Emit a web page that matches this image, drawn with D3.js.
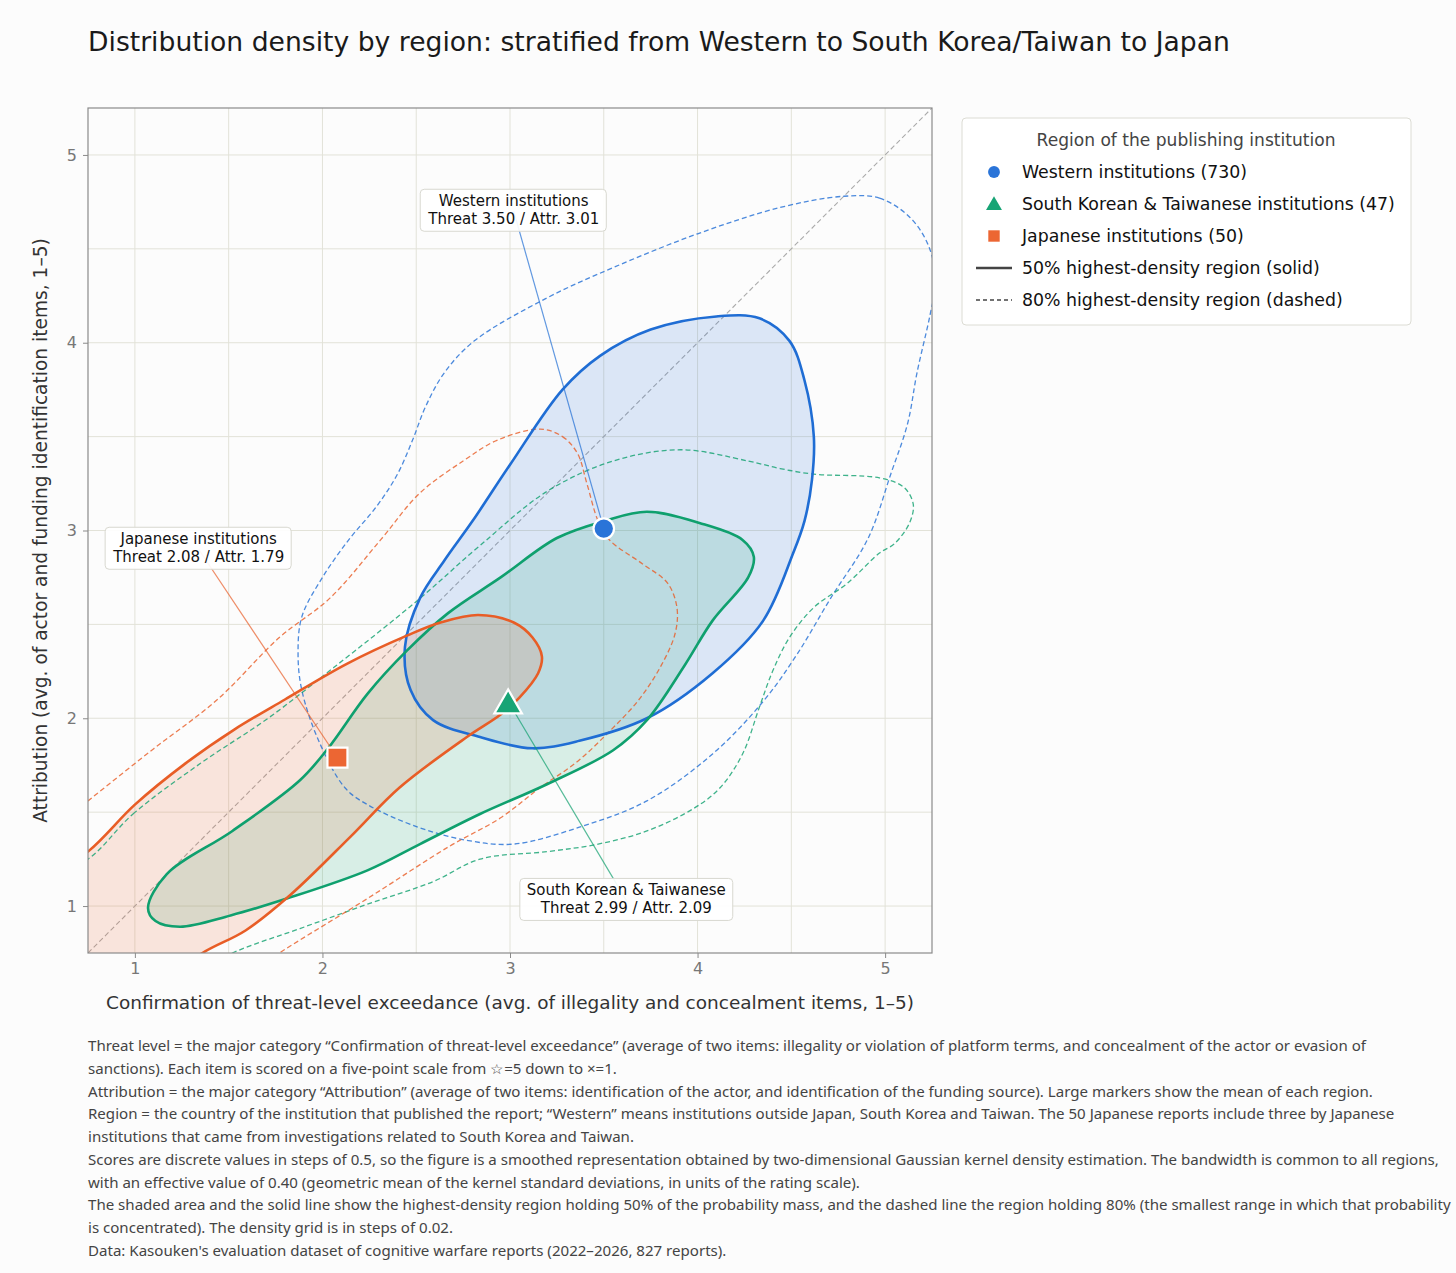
<!DOCTYPE html>
<html>
<head>
<meta charset="utf-8">
<script src="https://cdn.jsdelivr.net/npm/d3@7"></script>
<style>
  body { margin: 0; background: #fcfcfc; }
  text { font-family: "DejaVu Sans", "Noto Sans", sans-serif; }
</style>
</head>
<body>
<div id="chart"></div>
<script>
// ---- data ----
const regionNames = ["Western institutions", "South Korean & Taiwanese institutions", "Japanese institutions"];
const regionCounts = [730, 47, 50];
const calloutNames = ["Western institutions", "South Korean & Taiwanese", "Japanese institutions"];
const meanThreat = [3.50, 2.99, 2.08];
const meanAttr = [3.01, 2.09, 1.79];

// 50% highest-density region outlines [threat, attribution]
const hdr50West = [[4.10,4.14],[4.33,4.13],[4.49,4.01],[4.57,3.80],[4.62,3.50],[4.61,3.27],[4.57,3.05],[4.51,2.88],[4.35,2.52],[4.08,2.24],[3.73,2.00],[3.37,1.88],[3.12,1.84],[2.84,1.90],[2.59,1.99],[2.47,2.15],[2.44,2.38],[2.52,2.64],[2.65,2.84],[2.80,3.05],[3.00,3.35],[3.28,3.75],[3.48,3.93],[3.75,4.07]];
const hdr50Korea = [[3.73,3.10],[4.01,3.04],[4.24,2.95],[4.30,2.86],[4.27,2.75],[4.08,2.52],[3.93,2.28],[3.73,1.99],[3.55,1.83],[3.20,1.65],[2.84,1.49],[2.52,1.33],[2.24,1.19],[1.81,1.04],[1.51,0.95],[1.24,0.89],[1.11,0.92],[1.07,0.99],[1.17,1.17],[1.52,1.40],[1.88,1.67],[2.03,1.84],[2.24,2.13],[2.45,2.36],[2.67,2.56],[2.95,2.75],[3.25,2.96],[3.50,3.05]];
const hdr50Japan = [[3.17,2.33],[3.15,2.24],[3.05,2.11],[2.95,2.02],[2.77,1.90],[2.41,1.63],[2.15,1.37],[1.83,1.06],[1.59,0.87],[1.36,0.75],[1.08,0.55],[0.60,0.33],[0.33,0.71],[0.44,1.08],[0.75,1.29],[1.00,1.54],[1.27,1.76],[1.53,1.94],[1.80,2.10],[2.13,2.29],[2.45,2.44],[2.63,2.51],[2.83,2.55],[3.02,2.51],[3.12,2.43]];

// 80% highest-density region outlines
const hdr80West = [[4.78,4.78],[4.97,4.77],[5.13,4.67],[5.23,4.52],[5.27,4.33],[5.24,4.15],[5.17,3.84],[5.12,3.57],[5.03,3.30],[4.91,2.96],[4.71,2.64],[4.53,2.34],[4.35,2.09],[4.08,1.81],[3.73,1.56],[3.37,1.42],[3.02,1.33],[2.77,1.35],[2.51,1.42],[2.24,1.54],[2.12,1.63],[1.98,1.88],[1.89,2.15],[1.87,2.34],[1.89,2.54],[2.00,2.75],[2.14,2.95],[2.29,3.13],[2.40,3.30],[2.48,3.48],[2.55,3.66],[2.65,3.84],[2.81,4.01],[3.20,4.24],[3.55,4.40],[4.00,4.58],[4.44,4.72]];
const hdr80Korea = [[0.75,1.25],[0.99,1.49],[1.35,1.76],[1.71,2.00],[2.06,2.27],[2.51,2.63],[2.84,2.92],[3.20,3.21],[3.55,3.37],[3.91,3.43],[4.27,3.37],[4.44,3.33],[4.62,3.30],[4.97,3.28],[5.10,3.23],[5.15,3.14],[5.13,3.04],[5.05,2.93],[4.97,2.88],[4.80,2.72],[4.62,2.59],[4.49,2.43],[4.40,2.25],[4.33,2.06],[4.24,1.81],[4.12,1.63],[3.98,1.52],[3.73,1.40],[3.47,1.33],[3.20,1.29],[2.84,1.25],[2.59,1.13],[2.24,1.01],[1.88,0.88],[1.52,0.75],[1.19,0.57],[0.71,0.49],[0.44,0.87],[0.49,1.13]];
const hdr80Japan = [[3.16,3.54],[3.28,3.50],[3.36,3.41],[3.41,3.25],[3.47,3.05],[3.53,2.95],[3.71,2.82],[3.84,2.72],[3.89,2.59],[3.88,2.45],[3.80,2.27],[3.68,2.09],[3.53,1.93],[3.36,1.77],[3.16,1.63],[2.95,1.47],[2.68,1.32],[2.24,1.04],[1.77,0.75],[1.35,0.47],[0.81,0.28],[0.39,0.76],[0.49,1.35],[0.75,1.56],[1.09,1.83],[1.44,2.10],[1.77,2.43],[2.04,2.64],[2.31,2.95],[2.52,3.20],[2.75,3.37],[2.93,3.48]];

const tickValues = [1, 2, 3, 4, 5];
const gridValues = [1, 1.5, 2, 2.5, 3, 3.5, 4, 4.5, 5];

const titleText = "Distribution density by region: stratified from Western to South Korea/Taiwan to Japan";
const xLabel = "Confirmation of threat-level exceedance (avg. of illegality and concealment items, 1\u20135)";
const yLabel = "Attribution (avg. of actor and funding identification items, 1\u20135)";
const legendTitle = "Region of the publishing institution";
const legendLines = ["50% highest-density region (solid)", "80% highest-density region (dashed)"];

const notes = [
  "Threat level = the major category \u201cConfirmation of threat-level exceedance\u201d (average of two items: illegality or violation of platform terms, and concealment of the actor or evasion of",
  "sanctions). Each item is scored on a five-point scale from \u2606=5 down to \u00d7=1.",
  "Attribution = the major category \u201cAttribution\u201d (average of two items: identification of the actor, and identification of the funding source). Large markers show the mean of each region.",
  "Region = the country of the institution that published the report; \u201cWestern\u201d means institutions outside Japan, South Korea and Taiwan. The 50 Japanese reports include three by Japanese",
  "institutions that came from investigations related to South Korea and Taiwan.",
  "Scores are discrete values in steps of 0.5, so the figure is a smoothed representation obtained by two-dimensional Gaussian kernel density estimation. The bandwidth is common to all regions,",
  "with an effective value of 0.40 (geometric mean of the kernel standard deviations, in units of the rating scale).",
  "The shaded area and the solid line show the highest-density region holding 50% of the probability mass, and the dashed line the region holding 80% (the smallest range in which that probability",
  "is concentrated). The density grid is in steps of 0.02.",
  "Data: Kasouken's evaluation dataset of cognitive warfare reports (2022\u20132026, 827 reports)."
];

// ---- layout ----
const colors = ["#1f6dd4", "#0fa06e", "#e85d26"];
const markerColors = ["#2a74d8", "#17a475", "#ec6633"];
const calloutCenters = [[3.02, 4.70], [3.62, 1.03], [1.34, 2.90]]; // label centres in data units

const W = 1456, H = 1273;
const box = { left: 88, top: 108, right: 932, bottom: 953 };

const svg = d3.select("#chart").append("svg")
  .attr("width", W).attr("height", H)
  .style("background", "#fcfcfc");

const x = d3.scaleLinear().domain([0.75, 5.25]).range([box.left, box.right]);
const y = d3.scaleLinear().domain([0.75, 5.25]).range([box.bottom, box.top]);

// shrink or stretch a text node so it spans a given width
function fitTo(sel, width) {
  const w = sel.node().getComputedTextLength();
  const fs = parseFloat(sel.style("font-size"));
  sel.style("font-size", (fs * width / w) + "px");
}

svg.append("defs").append("clipPath").attr("id", "plotclip")
  .append("rect")
  .attr("x", box.left).attr("y", box.top)
  .attr("width", box.right - box.left).attr("height", box.bottom - box.top);

// Title
const title = svg.append("text")
  .attr("x", 88).attr("y", 51)
  .attr("fill", "#1a1a1a")
  .style("font-size", "24px")
  .text(titleText);
fitTo(title, 1142);

// grid
const grid = svg.append("g");
grid.selectAll(".gx").data(gridValues).enter().append("line")
  .attr("x1", d => x(d)).attr("x2", d => x(d))
  .attr("y1", box.top).attr("y2", box.bottom)
  .attr("stroke", "#e2e2d8").attr("stroke-width", 1);
grid.selectAll(".gy").data(gridValues).enter().append("line")
  .attr("x1", box.left).attr("x2", box.right)
  .attr("y1", d => y(d)).attr("y2", d => y(d))
  .attr("stroke", "#e2e2d8").attr("stroke-width", 1);

const plot = svg.append("g").attr("clip-path", "url(#plotclip)");

// y = x reference
plot.append("line")
  .attr("x1", x(0.75)).attr("y1", y(0.75))
  .attr("x2", x(5.25)).attr("y2", y(5.25))
  .attr("stroke", "#aaaaaa").attr("stroke-width", 1.1)
  .attr("stroke-dasharray", "5,3");

const outline = d3.line()
  .x(d => x(d[0])).y(d => y(d[1]))
  .curve(d3.curveCatmullRomClosed.alpha(0.5));

const hdr50 = [hdr50West, hdr50Korea, hdr50Japan];
const hdr80 = [hdr80West, hdr80Korea, hdr80Japan];

// shaded 50% regions
hdr50.forEach((pts, i) => {
  plot.append("path")
    .attr("d", outline(pts))
    .attr("fill", colors[i])
    .attr("fill-opacity", 0.15)
    .attr("stroke", "none");
});

// 80% dashed outlines
hdr80.forEach((pts, i) => {
  plot.append("path")
    .attr("d", outline(pts))
    .attr("fill", "none")
    .attr("stroke", colors[i])
    .attr("stroke-opacity", 0.8)
    .attr("stroke-width", 1.3)
    .attr("stroke-dasharray", "5,3");
});

// 50% solid outlines
hdr50.forEach((pts, i) => {
  plot.append("path")
    .attr("d", outline(pts))
    .attr("fill", "none")
    .attr("stroke", colors[i])
    .attr("stroke-width", 2.6);
});

// frame
svg.append("rect")
  .attr("x", box.left).attr("y", box.top)
  .attr("width", box.right - box.left).attr("height", box.bottom - box.top)
  .attr("fill", "none").attr("stroke", "#8a8a8a").attr("stroke-width", 1.2);

// Axes
const xAxis = svg.append("g")
  .attr("transform", `translate(0,${box.bottom})`)
  .call(d3.axisBottom(x).tickValues(tickValues).tickSize(5).tickPadding(5).tickFormat(d3.format("d")));
const yAxis = svg.append("g")
  .attr("transform", `translate(${box.left},0)`)
  .call(d3.axisLeft(y).tickValues(tickValues).tickSize(5).tickPadding(6).tickFormat(d3.format("d")));
[xAxis, yAxis].forEach(a => {
  a.select(".domain").remove();
  a.selectAll(".tick line").attr("stroke", "#8a8a8a");
  a.selectAll(".tick text").attr("fill", "#777").style("font-size", "16px")
    .style("font-family", "\"DejaVu Sans\", sans-serif");
});

// Axis labels
const xl = svg.append("text")
  .attr("x", (box.left + box.right) / 2).attr("y", 1009)
  .attr("text-anchor", "middle").attr("fill", "#333")
  .style("font-size", "17px")
  .text(xLabel);
fitTo(xl, 808);

const yl = svg.append("text")
  .attr("transform", "rotate(-90)")
  .attr("x", -(box.top + box.bottom) / 2).attr("y", 47)
  .attr("text-anchor", "middle").attr("fill", "#333")
  .style("font-size", "17px")
  .text(yLabel);
fitTo(yl, 585);

// Callouts with leader lines
const callouts = svg.append("g");
regionNames.forEach((r, i) => {
  const cx = x(calloutCenters[i][0]), cy = y(calloutCenters[i][1]);
  callouts.append("line")
    .attr("x1", cx).attr("y1", cy)
    .attr("x2", x(meanThreat[i])).attr("y2", y(meanAttr[i]))
    .attr("stroke", colors[i]).attr("stroke-opacity", 0.7).attr("stroke-width", 1.2);
  const g = callouts.append("g");
  const t = g.append("text")
    .attr("x", cx).attr("y", cy - 5)
    .attr("text-anchor", "middle").attr("fill", "#111")
    .style("font-size", "15px");
  t.append("tspan").attr("x", cx).attr("dy", 0).text(calloutNames[i]);
  t.append("tspan").attr("x", cx).attr("dy", 18)
    .text(`Threat ${meanThreat[i].toFixed(2)} / Attr. ${meanAttr[i].toFixed(2)}`);
  const bb = t.node().getBBox();
  g.insert("rect", "text")
    .attr("x", bb.x - 7).attr("y", bb.y - 3)
    .attr("width", bb.width + 14).attr("height", bb.height + 6)
    .attr("rx", 4)
    .attr("fill", "#ffffff").attr("fill-opacity", 0.92)
    .attr("stroke", "#d8d8d0").attr("stroke-width", 1);
});

// Mean markers
const symbols = [d3.symbolCircle, d3.symbolTriangle, d3.symbolSquare];
const symbolSizes = [330, 330, 400];
const markers = svg.append("g");
regionNames.forEach((r, i) => {
  const dy = i === 1 ? Math.sqrt(symbolSizes[i] * 4 / Math.sqrt(3)) * Math.sqrt(3) / 2 / 6 : 0;
  markers.append("path")
    .attr("d", d3.symbol().type(symbols[i]).size(symbolSizes[i])())
    .attr("transform", `translate(${x(meanThreat[i])},${y(meanAttr[i]) + dy})`)
    .attr("fill", markerColors[i])
    .attr("stroke", "#fff").attr("stroke-width", 2.2);
});

// Legend
const legend = svg.append("g").attr("transform", "translate(962,118)");
legend.append("rect")
  .attr("width", 449).attr("height", 207).attr("rx", 4)
  .attr("fill", "#ffffff").attr("fill-opacity", 0.9)
  .attr("stroke", "#dcdcd4");
const lt = legend.append("text")
  .attr("x", 224).attr("y", 28)
  .attr("text-anchor", "middle").attr("fill", "#444")
  .style("font-size", "16px")
  .text(legendTitle);
fitTo(lt, 299);

const legendSizes = [110, 110, 130];
const legendTexts = [];
regionNames.forEach((r, i) => {
  const rowY = 54 + i * 32;
  const dy = i === 1 ? 1.5 : 0;
  legend.append("path")
    .attr("d", d3.symbol().type(symbols[i]).size(legendSizes[i])())
    .attr("transform", `translate(32,${rowY + dy})`)
    .attr("fill", markerColors[i]);
  legendTexts.push(legend.append("text")
    .attr("x", 60).attr("y", rowY + 6)
    .attr("fill", "#111").style("font-size", "16px")
    .text(`${r} (${regionCounts[i]})`));
});
legendLines.forEach((label, i) => {
  const rowY = 150 + i * 32;
  legend.append("line")
    .attr("x1", 14).attr("x2", 50).attr("y1", rowY).attr("y2", rowY)
    .attr("stroke", "#444")
    .attr("stroke-width", i === 0 ? 2.6 : 1.3)
    .attr("stroke-dasharray", i === 0 ? null : "4,3");
  legendTexts.push(legend.append("text")
    .attr("x", 60).attr("y", rowY + 6)
    .attr("fill", "#111").style("font-size", "16px")
    .text(label));
});
// same scale for every legend entry, taken from the longest one
{
  const w = legendTexts[1].node().getComputedTextLength();
  const fs = 16 * 373 / w;
  legendTexts.forEach(t => t.style("font-size", fs + "px"));
}

// Footnotes: one common horizontal squeeze, set by the first line
const noteSel = svg.append("g").selectAll("text").data(notes).enter().append("text")
  .attr("x", 88)
  .attr("y", (d, i) => 1051 + i * 22.75)
  .attr("fill", "#444")
  .style("font-family", "\"Noto Sans\", sans-serif")
  .style("font-size", "14px")
  .text(d => d);
{
  const nodes = noteSel.nodes();
  const squeeze = (1366 - 88) / nodes[0].getComputedTextLength();
  nodes.forEach(n => {
    d3.select(n)
      .attr("textLength", n.getComputedTextLength() * squeeze)
      .attr("lengthAdjust", "spacingAndGlyphs");
  });
}
</script>
</body>
</html>
